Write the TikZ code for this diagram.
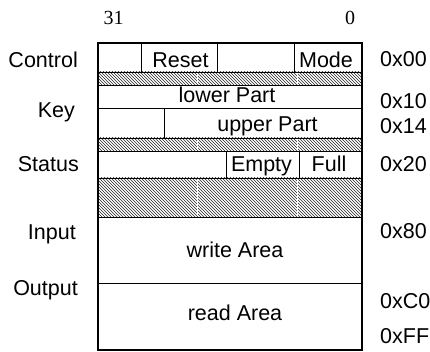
\documentclass[tikz,border=0pt]{standalone}
\usepackage{fontspec}
\setmainfont{Liberation Sans}
\newfontfamily\numfont{Liberation Serif}
\usetikzlibrary{patterns}
\begin{document}
\begin{tikzpicture}[x=1pt,y=-1pt,
  cell/.style={draw=black, line width=0.8pt},
  frame/.style={draw=black, line width=1.1pt},
  hatch/.style={pattern=north west lines, pattern color=black!85},
  gap/.style={draw=white, line width=0.5pt},
  lbl/.style={font=\fontsize{21.5}{25}\selectfont, inner sep=0pt, anchor=base},
  lleft/.style={lbl, anchor=base east},
  lright/.style={lbl, anchor=base west},
  bitno/.style={font=\numfont\fontsize{20}{23}\selectfont, inner sep=0pt, anchor=base}]
\useasboundingbox (0,0) rectangle (430,352);
\fill[white] (0,0) rectangle (430,352);

% bit numbers
\node[bitno] (t31) at (113.5,25) {31};
\node[bitno] (t0) at (350,25) {0};

% hatched bands
\fill[hatch] (98,72) rectangle (362,85);
\fill[hatch] (98,138) rectangle (362,151);
\fill[hatch] (98,178) rectangle (362,217);
\foreach \x in {197,297}{
  \draw[gap] (\x,72.6) -- (\x,84.4);
  \draw[gap] (\x,138.6) -- (\x,150.4);
  \draw[gap] (\x,178.6) -- (\x,216.4);
}

% Control row
\draw[cell] (98,43) rectangle (362,72);
\draw[cell] (141,43) -- (141,72);
\draw[cell] (217,43) -- (217,72);
\draw[cell] (294,43) -- (294,72);
\node[lbl] (areset) at (180.5,68) {Reset};
\node[lbl] (amode) at (326,68) {Mode};

% Key rows
\draw[cell] (98,85) rectangle (362,108);
\node[lbl] (alower) at (227,103) {lower Part};
\draw[cell] (98,108) rectangle (362,138);
\draw[cell] (164,108) -- (164,138);
\node[lbl] (aupper) at (267.5,132) {upper Part};

% Status row
\draw[cell] (98,151) rectangle (362,178);
\draw[cell] (226,151) -- (226,178);
\draw[cell] (299,151) -- (299,178);
\node[lbl] (aempty) at (261.5,172) {Empty};
\node[lbl] (afull) at (329,172) {Full};

% Input / Output areas
\draw[cell] (98,217) rectangle (362,283);
\node[lbl] (awrite) at (235,257) {write Area};
\draw[cell] (98,283) rectangle (362,350);
\node[lbl] (aread) at (235,320) {read Area};

% outer frame
\draw[frame] (98,43) rectangle (362,350);

% left labels
\node[lleft] (lcontrol) at (78,68) {Control};
\node[lleft] (lkey) at (75,118) {Key};
\node[lleft] (lstatus) at (79,172) {Status};
\node[lleft] (linput) at (76,240) {Input};
\node[lleft] (loutput) at (78,295) {Output};

% right labels (addresses)
\node[lright] (h00) at (380,67) {0x00};
\node[lright] (h10) at (380,109) {0x10};
\node[lright] (h14) at (380,134) {0x14};
\node[lright] (h20) at (380,172) {0x20};
\node[lright] (h80) at (380,239) {0x80};
\node[lright] (hc0) at (380,308) {0xC0};
\node[lright] (hff) at (380,343) {0xFF};
\end{tikzpicture}
\end{document}
